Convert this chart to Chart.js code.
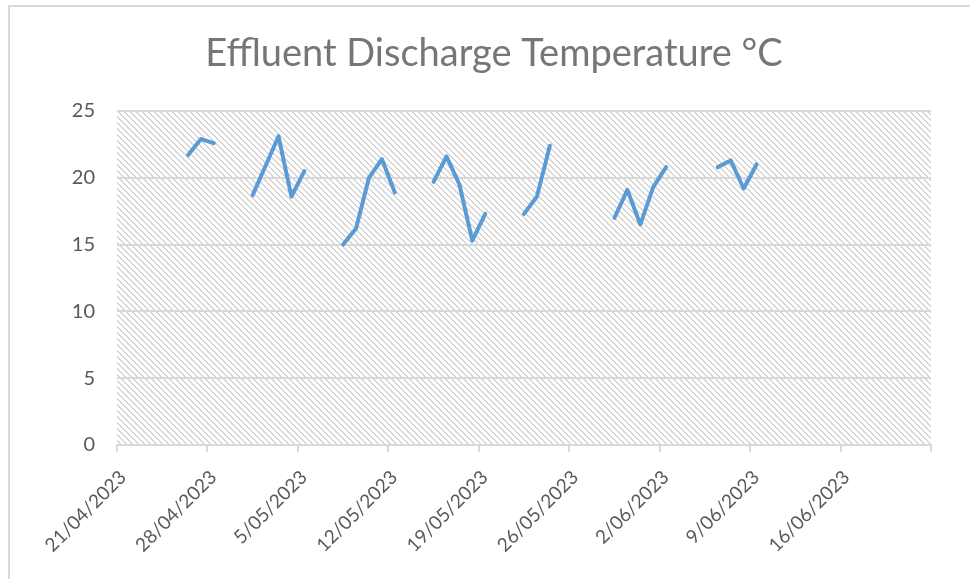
<!DOCTYPE html>
<html>
<head>
<meta charset="utf-8">
<script src="https://cdn.jsdelivr.net/npm/chart.js@4"></script>
<style>
  html, body { margin: 0; padding: 0; background: #fff; }
  #wrap { position: relative; width: 970px; height: 579px; }
  #frame { position: absolute; left: 8px; top: 5px; right: -5px; bottom: -5px; border-left: 2px solid #d9d9d9; border-top: 2px solid #d9d9d9; }
  canvas { position: absolute; left: 0; top: 0; }
</style>
</head>
<body>
<div id="wrap">
  <div id="frame"></div>
  <canvas id="tempChart" width="970" height="579"></canvas>
</div>
<script>
// readings (d/mm/yyyy) and temperatures
const readingDates = [
    '26/04/2023', '27/04/2023', '28/04/2023',
    '1/05/2023', '2/05/2023', '3/05/2023', '4/05/2023', '5/05/2023',
    '8/05/2023', '9/05/2023', '10/05/2023', '11/05/2023', '12/05/2023',
    '15/05/2023', '16/05/2023', '17/05/2023', '18/05/2023', '19/05/2023',
    '22/05/2023', '23/05/2023', '24/05/2023',
    '29/05/2023', '30/05/2023', '31/05/2023', '1/06/2023', '2/06/2023',
    '6/06/2023', '7/06/2023', '8/06/2023', '9/06/2023'
];
const temps = [
    21.7, 22.9, 22.6,
    18.7, 20.9, 23.1, 18.6, 20.5,
    15.0, 16.2, 20.0, 21.4, 18.9,
    19.7, 21.6, 19.5, 15.3, 17.3,
    17.3, 18.6, 22.4,
    17.0, 19.1, 16.5, 19.3, 20.8,
    20.8, 21.3, 19.2, 21.0
];
const axisStart = '21/04/2023';
const axisEnd = '23/06/2023';
const yTicks = [0, 5, 10, 15, 20, 25];

const DAY = 86400000;
function parseDate(s) {
    const [d, m, y] = s.split('/').map(Number);
    return Date.UTC(y, m - 1, d);
}
function fmtDate(t) {
    const d = new Date(t);
    return d.getUTCDate() + '/' + String(d.getUTCMonth() + 1).padStart(2, '0') + '/' + d.getUTCFullYear();
}
const t0 = parseDate(axisStart);
const span = (parseDate(axisEnd) - t0) / DAY;

// build points, leave a gap where days are skipped (weekends / holidays)
const points = [];
readingDates.forEach((s, i) => {
    const day = (parseDate(s) - t0) / DAY;
    if (i > 0) {
        const prev = (parseDate(readingDates[i - 1]) - t0) / DAY;
        if (day - prev > 1) points.push({ x: prev + 1, y: null });
    }
    // Excel plots each date in the middle of its day slot
    points.push({ x: day + 0.5, y: temps[i] });
});

// hatched plot background
function makeHatch() {
    const c = document.createElement('canvas');
    c.width = 6; c.height = 6;
    const g = c.getContext('2d');
    g.fillStyle = '#ffffff';
    g.fillRect(0, 0, 6, 6);
    g.fillStyle = '#d6d6d6';
    for (let i = 0; i < 6; i++) {
        g.fillRect(i, i, 1, 1);
        g.fillRect((i + 1) % 6, i, 1, 1);
    }
    return g.createPattern(c, 'repeat');
}
const hatch = makeHatch();

const hatchBg = {
    id: 'hatchBg',
    beforeDraw(chart) {
        const { ctx, chartArea: a } = chart;
        ctx.save();
        ctx.fillStyle = hatch;
        ctx.fillRect(a.left, a.top, a.right - a.left, a.bottom - a.top);
        ctx.restore();
    }
};

const FONT = 'Lato, "Open Sans", sans-serif';

const tempChart = new Chart(document.getElementById('tempChart').getContext('2d'), {
    type: 'line',
    data: {
        datasets: [{
            label: 'Effluent Discharge Temperature °C',
            data: points,
            borderColor: '#5b9bd5',
            borderWidth: 4,
            borderCapStyle: 'round',
            borderJoinStyle: 'round',
            pointRadius: 0,
            spanGaps: false,
            fill: false,
            tension: 0
        }]
    },
    options: {
        responsive: false,
        animation: false,
        layout: { padding: { top: 10, right: 39, bottom: 0, left: 57 } },
        plugins: {
            legend: { display: false },
            tooltip: { enabled: false },
            title: {
                display: true,
                text: 'Effluent Discharge Temperature °C',
                color: '#767676',
                font: { family: FONT, size: 38, weight: 'normal', lineHeight: 1.2 },
                padding: { top: 20.5, bottom: 34.9 }
            }
        },
        scales: {
            x: {
                type: 'linear',
                min: 0,
                max: span,
                afterBuildTicks(scale) {
                    const ticks = [];
                    for (let v = 0; v <= span; v += 7) ticks.push({ value: v });
                    scale.ticks = ticks;
                },
                afterFit(scale) {
                    scale.height = 134;
                    scale.paddingLeft = 0;
                    scale.paddingRight = 0;
                },
                grid: {
                    drawOnChartArea: false,
                    drawTicks: true,
                    tickLength: 7,
                    color: '#d9d9d9',
                    lineWidth: 2
                },
                border: { display: true, color: '#d9d9d9', width: 2 },
                ticks: {
                    color: '#595959',
                    font: { family: FONT, size: 19 },
                    minRotation: 45,
                    maxRotation: 45,
                    padding: 14,
                    labelOffset: 6,
                    autoSkip: false,
                    callback: v => (v >= span ? '' : fmtDate(t0 + v * DAY))
                }
            },
            y: {
                min: 0,
                max: 25,
                afterBuildTicks(scale) { scale.ticks = yTicks.map(v => ({ value: v })); },
                afterFit(scale) { scale.width = 60; },
                grid: { color: '#d9d9d9', lineWidth: 2, drawTicks: false },
                border: { display: false },
                ticks: {
                    color: '#595959',
                    font: { family: FONT, size: 20 },
                    padding: 22
                }
            }
        }
    },
    plugins: [hatchBg]
});
</script>
</body>
</html>
